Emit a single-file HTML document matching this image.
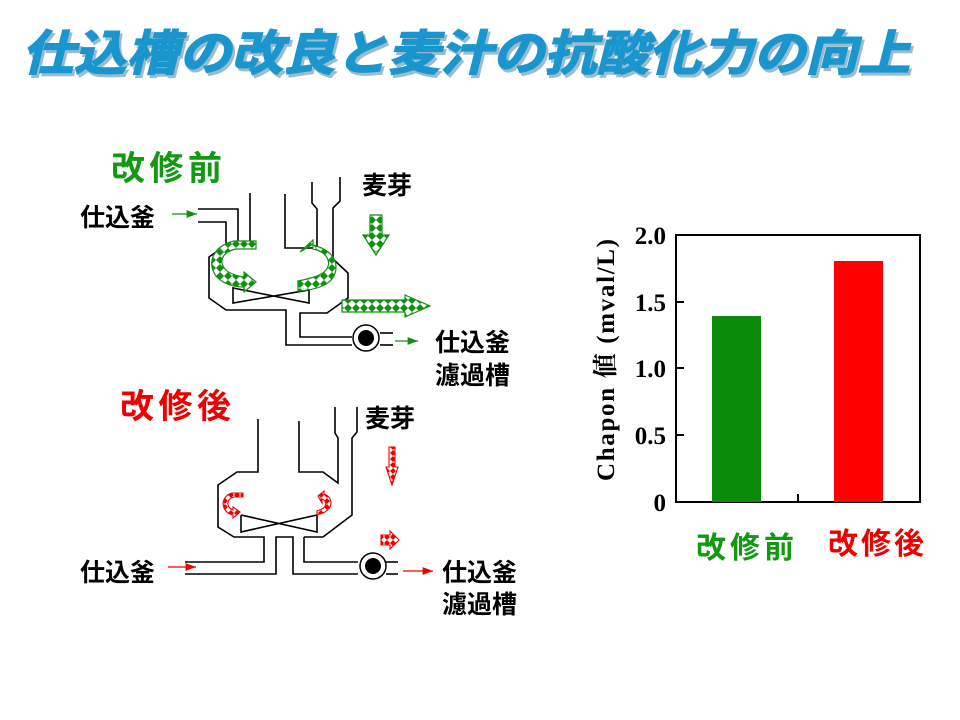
<!DOCTYPE html>
<html><head><meta charset="utf-8"><style>
html,body{margin:0;padding:0;background:#fff;}
svg{display:block;}
.t{font-family:"Liberation Sans","Noto Sans CJK JP",sans-serif;font-weight:bold;}
.s{font-family:"Liberation Serif","Noto Serif CJK SC",serif;font-weight:bold;}
</style></head><body>
<svg width="960" height="720" viewBox="0 0 960 720" xmlns="http://www.w3.org/2000/svg">
<defs>
<pattern id="gd" width="8" height="8" patternUnits="userSpaceOnUse">
<rect width="8" height="8" fill="#fff"/><path d="M4 0L8 4L4 8L0 4Z" fill="#109010"/></pattern>
<pattern id="rd" width="6" height="6" patternUnits="userSpaceOnUse">
<rect width="6" height="6" fill="#fff"/><path d="M3 0L6 3L3 6L0 3Z" fill="#e00"/></pattern>
<marker id="ga" markerWidth="8" markerHeight="6" refX="8" refY="3" orient="auto"><path d="M0 0L8 3L0 6Z" fill="#109010"/></marker>
<marker id="ra" markerWidth="8" markerHeight="6" refX="8" refY="3" orient="auto"><path d="M0 0L8 3L0 6Z" fill="#e00"/></marker>
</defs>

<!-- Title -->
<g transform="translate(22,70) skewX(-14)">
<text x="0" y="0" class="t" font-size="48" fill="#9bbccc" stroke="#9bbccc" stroke-width="1.5" transform="translate(3,3)" textLength="888" lengthAdjust="spacingAndGlyphs">仕込槽の改良と麦汁の抗酸化力の向上</text>
<text x="0" y="0" class="t" font-size="48" fill="#1a96cf" stroke="#1a96cf" stroke-width="1.5" textLength="888" lengthAdjust="spacingAndGlyphs">仕込槽の改良と麦汁の抗酸化力の向上</text>
</g>

<!-- Top diagram -->
<text x="111" y="180" class="t" font-size="34" fill="#119911" textLength="111">改修前</text>
<text x="80" y="226" class="t" font-size="25" fill="#000">仕込釜</text>
<text x="362" y="194" class="t" font-size="25" fill="#000">麦芽</text>
<text x="435" y="351" class="t" font-size="25" fill="#000">仕込釜</text>
<text x="435" y="384" class="t" font-size="25" fill="#000">濾過槽</text>
<line x1="172" y1="214" x2="197" y2="214" stroke="#109010" stroke-width="1.3" marker-end="url(#ga)"/>
<line x1="395" y1="341" x2="418" y2="341" stroke="#109010" stroke-width="1.3" marker-end="url(#ga)"/>
<g fill="none" stroke="#000" stroke-width="1.6">
<polyline points="198,209 238,209 238,245 250,245 250,193"/>
<polyline points="198,222 226,222 226,245 209,257 209,298 226,310 286,310 286,345 352,345"/>
<polyline points="285,194 285,248 317,248 317,209 312,203 312,182"/>
<polyline points="340,177 340,201 333,208 333,259 348,273 348,298 327,313 300,313 300,337 352,337"/>
<polyline points="233,287 233,303 309,290 309,303 233,288"/>
<line x1="380" y1="333" x2="393" y2="333"/><line x1="380" y1="345" x2="393" y2="345"/>
</g>
<circle cx="366" cy="338" r="13" fill="#fff" stroke="#000" stroke-width="1.5"/>
<circle cx="366" cy="338" r="8" fill="#000"/>
<g stroke="#109010" stroke-width="1.2" fill="url(#gd)">
<path d="M370 215H382V235H389L376 255L363 235H370Z"/>
<path d="M342 300H405V295L430 306L405 317V312H342Z"/>
<path d="M256 249H236C222 252 218 262 226 270C230 274 238 276 244 277V272L256 282L244 292V287C232 287 222 283 216 276C206 262 214 246 234 241H256Z"/>
<path d="M300 252L313 244V249C327 252 332 262 326 270C321 276 312 278 298 281V291C318 290 330 284 334 276C340 262 332 250 313 245V240Z"/>
</g>

<!-- Bottom diagram -->
<text x="120" y="418" class="t" font-size="34" fill="#ee0000" textLength="111">改修後</text>
<text x="365" y="427" class="t" font-size="25" fill="#000">麦芽</text>
<text x="80" y="581" class="t" font-size="25" fill="#000">仕込釜</text>
<text x="442" y="581" class="t" font-size="25" fill="#000">仕込釜</text>
<text x="442" y="613" class="t" font-size="25" fill="#000">濾過槽</text>
<line x1="168" y1="567" x2="196" y2="567" stroke="#e00" stroke-width="1.3" marker-end="url(#ra)"/>
<line x1="403" y1="571" x2="433" y2="571" stroke="#e00" stroke-width="1.3" marker-end="url(#ra)"/>
<g fill="none" stroke="#000" stroke-width="1.6">
<polyline points="258,419 258,472 237,472 218,485 218,527 234,537 264,537 264,562 185,562"/>
<polyline points="185,574 276,574 276,537 293,537 293,574 358,574"/>
<polyline points="304,537 304,562 358,562"/>
<polyline points="304,537 323,537 352,515 352,438 357,432 357,407"/>
<polyline points="299,421 299,472 323,472 338,483 338,438 335,433 335,407"/>
<polyline points="241,515 241,532 317,515 317,532 241,515"/>
<line x1="386" y1="562" x2="398" y2="562"/><line x1="386" y1="574" x2="398" y2="574"/>
</g>
<circle cx="373" cy="566" r="13" fill="#fff" stroke="#000" stroke-width="1.5"/>
<circle cx="373" cy="566" r="8" fill="#000"/>
<g stroke="#e00" stroke-width="1.1" fill="url(#rd)">
<path d="M389 447H395V467H398L392 485L386 467H389Z"/>
<path d="M381 535H390V531L399 540L390 549V545H381Z"/>
<path d="M243 497H234C226 499 226 507 233 510V507L240 512L233 518V515C220 512 220 496 232 493H243Z"/>
<path d="M318 496L324 491V494C333 497 334 508 323 513L317 515V511L322 509C327 506 327 501 322 499V503Z"/>
</g>

<!-- Chart -->
<rect x="676" y="235" width="244" height="267" fill="none" stroke="#000" stroke-width="2"/>
<rect x="712" y="316" width="49" height="186" fill="#0a8c0a"/>
<rect x="834" y="261" width="49" height="241" fill="#ff0000"/>
<g stroke="#000" stroke-width="2">
<line x1="676" y1="302" x2="684" y2="302"/><line x1="676" y1="368" x2="684" y2="368"/>
<line x1="676" y1="435" x2="684" y2="435"/><line x1="798" y1="494" x2="798" y2="502"/>
</g>
<g class="s" font-size="25" fill="#000" text-anchor="end">
<text x="666" y="244">2.0</text><text x="666" y="311">1.5</text>
<text x="666" y="377">1.0</text><text x="666" y="444">0.5</text><text x="666" y="511">0</text>
</g>
<text class="s" font-size="25" fill="#000" text-anchor="middle" transform="translate(614,360) rotate(-90)" textLength="242">Chapon 値 (mval/L)</text>
<text x="696" y="558" class="t" font-size="30" fill="#119911" textLength="98">改修前</text>
<text x="828" y="554" class="t" font-size="30" fill="#ee0000" textLength="96">改修後</text>
</svg>
</body></html>
